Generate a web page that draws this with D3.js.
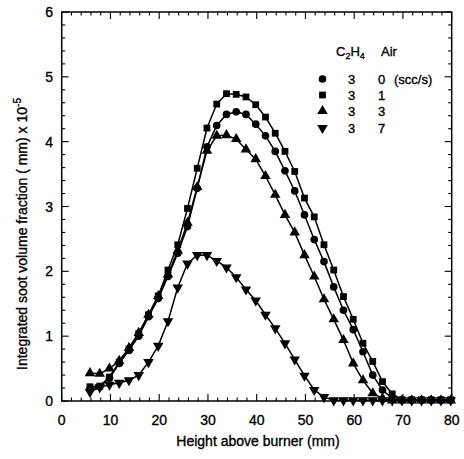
<!DOCTYPE html>
<html>
<head>
<meta charset="utf-8">
<script src="https://cdn.jsdelivr.net/npm/d3@7"></script>
<style>
  html, body { margin: 0; padding: 0; background: #fff; }
  svg { display: block; }
  text { font-family: "Liberation Sans", Arial, Helvetica, sans-serif; fill: #000; stroke: #000; stroke-width: 0.35px; }
</style>
</head>
<body>
<svg id="chart" width="464" height="459"></svg>
<script>
// ---- data ----
const heights = [5.8, 7.8, 9.8, 11.8, 13.8, 15.8, 17.8, 19.8, 21.8, 23.8,
                 25.8, 27.8, 29.8, 31.8, 33.8, 35.8, 37.8, 39.8, 41.8, 43.8,
                 45.8, 47.8, 49.8, 51.8, 53.8, 55.8, 57.8, 59.8, 61.8, 63.8,
                 65.8, 67.8, 69.8, 71.8, 73.8, 75.8, 77.8, 79.8];
// Air 0 scc/s (circles)
const air0 = [0.18, 0.22, 0.35, 0.58, 0.78, 1.00, 1.30, 1.58, 1.92, 2.28,
              2.69, 3.28, 3.92, 4.25, 4.42, 4.46, 4.42, 4.27, 4.09, 3.85,
              3.55, 3.24, 2.87, 2.49, 2.15, 1.76, 1.40, 1.10, 0.76, 0.40,
              0.17, 0.04, 0.01, 0.01, 0.01, 0.01, 0.01, 0.01];
// Air 1 scc/s (squares)
const air1 = [0.22, 0.23, 0.37, 0.60, 0.80, 1.04, 1.33, 1.62, 2.02, 2.41,
              2.97, 3.59, 4.21, 4.58, 4.74, 4.73, 4.69, 4.57, 4.38, 4.13,
              3.85, 3.54, 3.13, 2.84, 2.41, 2.02, 1.61, 1.26, 0.89, 0.61,
              0.30, 0.11, 0.02, 0.02, 0.02, 0.02, 0.02, 0.02];
// Air 3 scc/s (triangles up)
const air3 = [0.43, 0.42, 0.50, 0.62, 0.82, 1.05, 1.33, 1.62, 1.95, 2.32,
              2.75, 3.30, 3.86, 4.09, 4.10, 4.04, 3.88, 3.73, 3.47, 3.18,
              2.87, 2.60, 2.25, 1.92, 1.57, 1.26, 0.94, 0.58, 0.32, 0.12,
              0.04, 0.01, 0.01, 0.01, 0.01, 0.01, 0.01, 0.01];
// Air 7 scc/s (triangles down)
const air7 = [0.14, 0.21, 0.25, 0.28, 0.32, 0.40, 0.60, 0.85, 1.23, 1.75,
              2.12, 2.25, 2.25, 2.16, 2.06, 1.91, 1.72, 1.55, 1.33, 1.12,
              0.89, 0.64, 0.39, 0.17, 0.06, 0.01, 0.01, 0.01, 0.01, 0.01,
              0.01, 0.01, 0.01, 0.01, 0.01, 0.01, 0.01, 0.01];
const seriesNames = ["air0", "air1", "air3", "air7"];
const ethyleneFlow = ["3", "3", "3", "3"];
const airFlow = ["0", "1", "3", "7"];
const xTicks = [0, 10, 20, 30, 40, 50, 60, 70, 80];
const yTicks = [0, 1, 2, 3, 4, 5, 6];

// ---- layout ----
const svg = d3.select("#chart");
const pLeft = 61.7, pRight = 451.7, pTop = 12, pBottom = 401;
const x = d3.scaleLinear().domain([0, 80]).range([pLeft, pRight]);
const y = d3.scaleLinear().domain([0, 6]).range([pBottom, pTop]);

const seriesValues = [air0, air1, air3, air7];
const shapes = [
  {type: d3.symbolCircle, size: 46, rot: 0},
  {type: d3.symbolSquare, size: 46, rot: 0},
  {type: d3.symbolTriangle, size: 48, rot: 0},
  {type: d3.symbolTriangle, size: 48, rot: 180}
];

// frame
svg.append("rect")
  .attr("x", pLeft).attr("y", pTop)
  .attr("width", pRight - pLeft).attr("height", pBottom - pTop)
  .attr("fill", "none").attr("stroke", "#000").attr("stroke-width", 1.5);

// ticks (inward on all sides)
const g = svg.append("g").attr("stroke", "#000").attr("stroke-width", 1.1);
const xMinor = d3.range(0, 80.01, 2);
const yMinor = d3.range(0, 6.001, 0.2);
xMinor.forEach(v => {
  const major = Math.abs(v % 10) < 1e-6;
  const L = major ? 7 : 3.5;
  g.append("line").attr("x1", x(v)).attr("x2", x(v)).attr("y1", pBottom).attr("y2", pBottom - L);
  g.append("line").attr("x1", x(v)).attr("x2", x(v)).attr("y1", pTop).attr("y2", pTop + L);
});
yMinor.forEach(v => {
  const major = Math.abs(v - Math.round(v)) < 1e-6;
  const L = major ? 7 : 3.5;
  g.append("line").attr("y1", y(v)).attr("y2", y(v)).attr("x1", pLeft).attr("x2", pLeft + L);
  g.append("line").attr("y1", y(v)).attr("y2", y(v)).attr("x1", pRight).attr("x2", pRight - L);
});

// tick labels
svg.append("g").selectAll("text").data(xTicks).join("text")
  .attr("x", d => x(d)).attr("y", 425)
  .attr("text-anchor", "middle").attr("font-size", 14)
  .text(d => d);
svg.append("g").selectAll("text").data(yTicks).join("text")
  .attr("x", 53).attr("y", d => y(d) + 5)
  .attr("text-anchor", "end").attr("font-size", 14)
  .text(d => d);

// axis titles
svg.append("text")
  .attr("x", 258).attr("y", 446)
  .attr("text-anchor", "middle").attr("font-size", 14)
  .text("Height above burner (mm)");
const yt = svg.append("text")
  .attr("transform", "translate(27," + 234 + ") rotate(-90)")
  .attr("text-anchor", "middle").attr("font-size", 14);
yt.append("tspan").text("Integrated soot volume fraction ( mm) x 10");
yt.append("tspan").attr("font-size", 10).attr("dy", -6).text("-5");

// lines and markers
const line = d3.line().x((d, i) => x(heights[i])).y(d => y(d));
seriesValues.forEach((vals, si) => {
  svg.append("path").datum(vals)
    .attr("d", line)
    .attr("fill", "none").attr("stroke", "#000").attr("stroke-width", 1.5);
});
seriesValues.forEach((vals, si) => {
  const sh = shapes[si];
  const sym = d3.symbol().type(sh.type).size(sh.size);
  svg.append("g").attr("class", seriesNames[si]).selectAll("path").data(vals).join("path")
    .attr("d", sym)
    .attr("transform", (d, i) => `translate(${x(heights[i])},${y(d)}) rotate(${sh.rot})`)
    .attr("fill", "#000");
});

// legend
const lg = svg.append("g");
const h1 = lg.append("text").attr("x", 336).attr("y", 56).attr("font-size", 13);
h1.append("tspan").text("C");
h1.append("tspan").attr("font-size", 9).attr("dy", 3).text("2");
h1.append("tspan").attr("font-size", 13).attr("dy", -3).text("H");
h1.append("tspan").attr("font-size", 9).attr("dy", 3).text("4");
lg.append("text").attr("x", 381).attr("y", 56).attr("font-size", 13).text("Air");
const rowY = [79, 95, 111, 128];
seriesValues.forEach((vals, si) => {
  const sh = shapes[si];
  const sym = d3.symbol().type(sh.type).size(sh.size);
  lg.append("path").attr("d", sym)
    .attr("transform", `translate(322.5,${rowY[si]}) rotate(${sh.rot})`)
    .attr("fill", "#000");
  lg.append("text").attr("x", 351.5).attr("y", rowY[si] + 4.5)
    .attr("text-anchor", "middle").attr("font-size", 13).text(ethyleneFlow[si]);
  lg.append("text").attr("x", 381.5).attr("y", rowY[si] + 4.5)
    .attr("text-anchor", "middle").attr("font-size", 13).text(airFlow[si]);
});
lg.append("text").attr("x", 394).attr("y", rowY[0] + 4.5).attr("font-size", 13).text("(scc/s)");
</script>
</body>
</html>
